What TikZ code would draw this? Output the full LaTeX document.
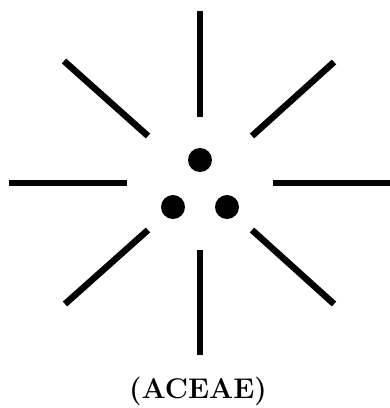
\documentclass[tikz,border=0pt]{standalone}
\usepackage{tikz}
\usetikzlibrary{positioning}

\begin{document}
\begin{tikzpicture}[
    x=1pt, y=-1pt,
    ray/.style={draw, line width=6.5pt},
    dot/.style={circle, fill, inner sep=0pt, minimum size=24pt},
    caption/.style={font=\fontsize{28.5}{32}\selectfont\bfseries},
]
\useasboundingbox (0,0) rectangle (390,408);

% Rays
\draw[ray] (200,11) -- (200,117);
\draw[ray] (200,250) -- (200,355);
\draw[ray] (9,183) -- (127,183);
\draw[ray] (273,183) -- (390,183);
\draw[ray] (64,61) -- (148,136);
\draw[ray] (334,62) -- (252,136);
\draw[ray] (65,304) -- (148,230);
\draw[ray] (334,304) -- (252,230);

% Dots
\node[dot] (top) at (200,160) {};
\node[dot] (left) at (173,207) {};
\node[dot] (right) at (227,207) {};

% Caption
\node[caption] (name) at (198,391) {(ACEAE)};

\end{tikzpicture}
\end{document}
